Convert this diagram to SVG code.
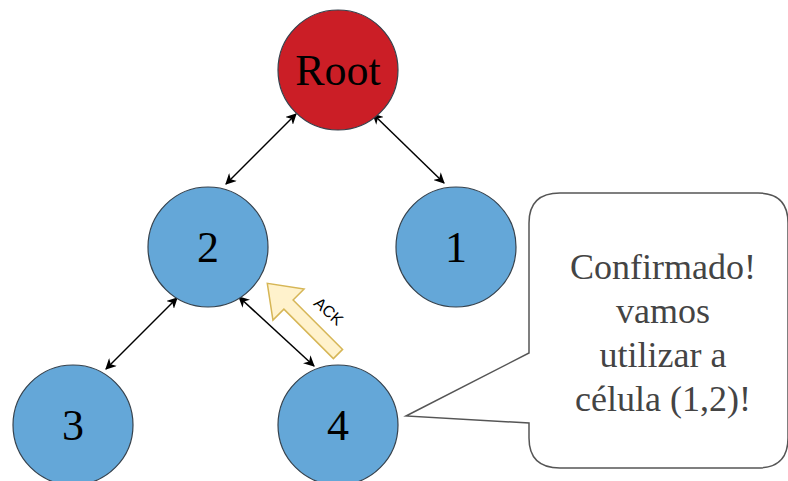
<svg xmlns="http://www.w3.org/2000/svg" width="788" height="481" viewBox="0 0 788 481">
<style>
.node{fill:#64A7D8;stroke:#36424d;stroke-width:1.2}
.root{fill:#CB1E26;stroke:#36424d;stroke-width:1.2}
.lbl{font-family:"Liberation Serif",serif;font-size:44px;fill:#000;text-anchor:middle}
.edge{stroke:#000;stroke-width:1.5;fill:none;marker-start:url(#ah);marker-end:url(#ah)}
.call{font-family:"Liberation Serif",serif;font-size:36px;fill:#444;text-anchor:middle}
</style>
<defs>
<marker id="ah" viewBox="0 0 10 10" refX="9" refY="5" markerWidth="11" markerHeight="11" orient="auto-start-reverse" markerUnits="userSpaceOnUse">
<path d="M0,0 L10,5 L0,10 L3,5 Z" fill="#000"/>
</marker>
</defs>
<rect width="788" height="481" fill="#fff"/>
<g id="connectors">
<line class="edge" x1="226" y1="184" x2="296" y2="114"/>
<line class="edge" x1="444" y1="183" x2="373" y2="114"/>
<line class="edge" x1="106" y1="369" x2="177" y2="298"/>
<line class="edge" x1="314" y1="366" x2="239" y2="297"/>
</g>
<g id="root">
<circle class="root" cx="338" cy="70" r="60"/>
<text class="lbl" x="338" y="85">Root</text>
</g>
<g id="n2">
<circle class="node" cx="208" cy="247" r="60"/>
<text class="lbl" x="208" y="262">2</text>
</g>
<g id="n1">
<circle class="node" cx="456" cy="247" r="60"/>
<text class="lbl" x="456" y="262">1</text>
</g>
<g id="n3">
<circle class="node" cx="73" cy="425" r="60"/>
<text class="lbl" x="73" y="440">3</text>
</g>
<g id="n4">
<circle class="node" cx="338" cy="425" r="60"/>
<text class="lbl" x="338" y="440">4</text>
</g>
<g id="ack">
<polygon transform="translate(338,354) rotate(225)" points="0,-6.5 70,-6.5 70,-22 100,0 70,22 70,6.5 0,6.5" fill="#FFF2CC" stroke="#D6B656" stroke-width="1.5"/>
<text transform="translate(329,311) rotate(42)" x="0" y="6" font-family="Liberation Sans,Arial,sans-serif" font-size="16" text-anchor="middle" fill="#000">ACK</text>
</g>
<g id="callout">
<path d="M560,193 H758 Q788,193 788,223 V438 Q788,468 758,468 H560 Q529,468 529,438 V423 L406,416 L529,353 V223 Q529,193 560,193 Z" fill="#fff" stroke="#555" stroke-width="1.5"/>
<text class="call" x="663" y="279">Confirmado!</text>
<text class="call" x="663" y="323">vamos</text>
<text class="call" x="663" y="367">utilizar a</text>
<text class="call" x="663" y="411">célula (1,2)!</text>
</g>
</svg>
